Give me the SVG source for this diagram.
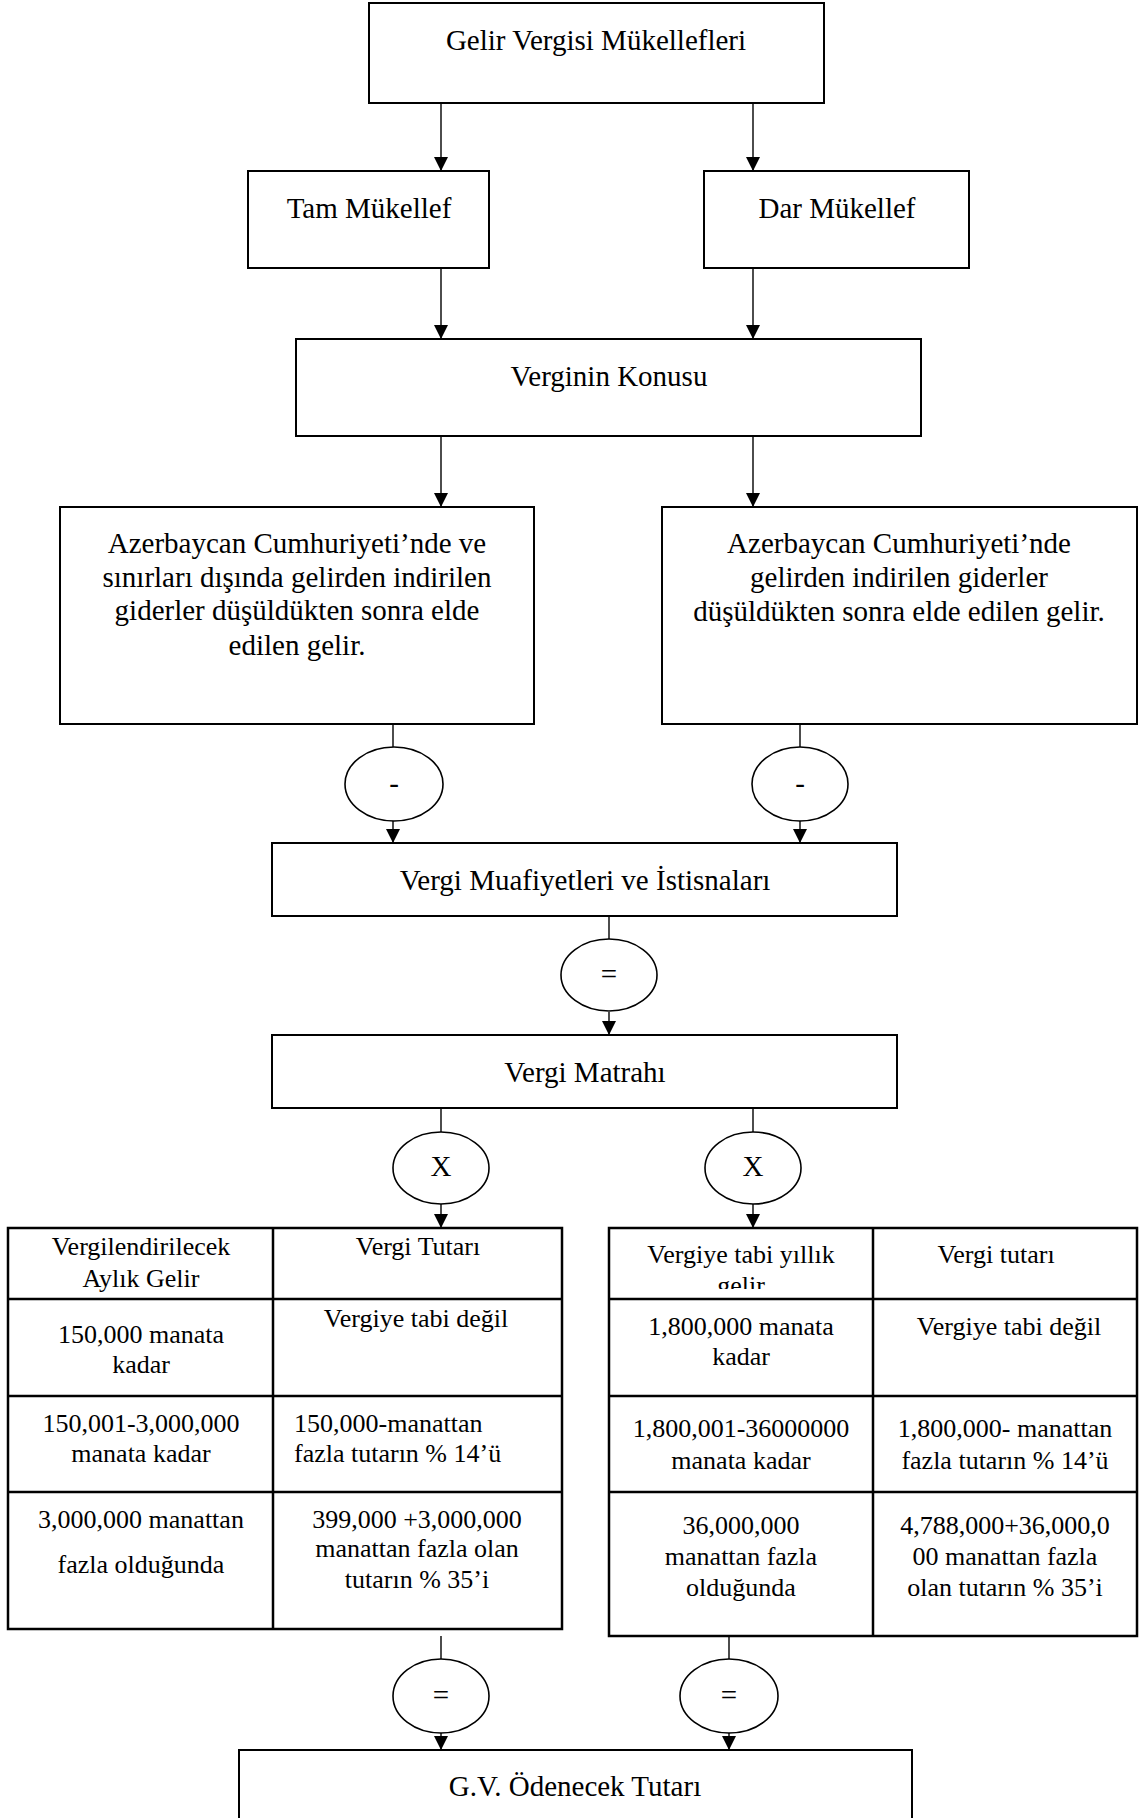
<svg xmlns="http://www.w3.org/2000/svg" width="1139" height="1818" viewBox="0 0 1139 1818">
<style>
.box{fill:#fff;stroke:#000;stroke-width:2}
.tbl{fill:#fff;stroke:#000;stroke-width:2.5}
.tl{stroke:#000;stroke-width:2.5}
.op{fill:#fff;stroke:#000;stroke-width:1.6}
.c{stroke:#000;stroke-width:1.4;fill:none}
.t{font-family:"Liberation Serif","Times New Roman",serif;font-size:29px;fill:#000;text-anchor:middle}
.s{font-family:"Liberation Serif","Times New Roman",serif;font-size:26px;fill:#000;text-anchor:middle}
.sl{text-anchor:start}
</style>
<defs>
<marker id="ah" viewBox="0 0 14 14" refX="14" refY="7" markerWidth="14" markerHeight="14" markerUnits="userSpaceOnUse" orient="auto">
<path d="M0,0 L14,7 L0,14 z" fill="#000"/>
</marker>
<clipPath id="clipGelir"><rect x="609" y="1228" width="264" height="61"/></clipPath>
</defs>
<rect width="1139" height="1818" fill="#fff"/>

<g id="connectors">
<line class="c" x1="441" y1="103" x2="441" y2="171" marker-end="url(#ah)"/>
<line class="c" x1="753" y1="103" x2="753" y2="171" marker-end="url(#ah)"/>
<line class="c" x1="441" y1="268" x2="441" y2="339" marker-end="url(#ah)"/>
<line class="c" x1="753" y1="268" x2="753" y2="339" marker-end="url(#ah)"/>
<line class="c" x1="441" y1="436" x2="441" y2="507" marker-end="url(#ah)"/>
<line class="c" x1="753" y1="436" x2="753" y2="507" marker-end="url(#ah)"/>
<line class="c" x1="393" y1="724" x2="393" y2="747"/>
<line class="c" x1="393" y1="820" x2="393" y2="843" marker-end="url(#ah)"/>
<line class="c" x1="800" y1="724" x2="800" y2="747"/>
<line class="c" x1="800" y1="820" x2="800" y2="843" marker-end="url(#ah)"/>
<line class="c" x1="609" y1="916" x2="609" y2="939"/>
<line class="c" x1="609" y1="1012" x2="609" y2="1035" marker-end="url(#ah)"/>
<line class="c" x1="441" y1="1108" x2="441" y2="1132"/>
<line class="c" x1="441" y1="1204" x2="441" y2="1228" marker-end="url(#ah)"/>
<line class="c" x1="753" y1="1108" x2="753" y2="1132"/>
<line class="c" x1="753" y1="1204" x2="753" y2="1228" marker-end="url(#ah)"/>
<line class="c" x1="441" y1="1636" x2="441" y2="1660"/>
<line class="c" x1="441" y1="1733" x2="441" y2="1750" marker-end="url(#ah)"/>
<line class="c" x1="729" y1="1637" x2="729" y2="1660"/>
<line class="c" x1="729" y1="1733" x2="729" y2="1750" marker-end="url(#ah)"/>
</g>

<g id="n-gelir">
<rect class="box" x="369" y="3" width="455" height="100"/>
<text class="t" x="596" y="50">Gelir Vergisi Mükellefleri</text>
</g>
<g id="n-tam">
<rect class="box" x="248" y="171" width="241" height="97"/>
<text class="t" x="369" y="218">Tam Mükellef</text>
</g>
<g id="n-dar">
<rect class="box" x="704" y="171" width="265" height="97"/>
<text class="t" x="837" y="218">Dar Mükellef</text>
</g>
<g id="n-konu">
<rect class="box" x="296" y="339" width="625" height="97"/>
<text class="t" x="609" y="386">Verginin Konusu</text>
</g>
<g id="n-tam-gelir">
<rect class="box" x="60" y="507" width="474" height="217"/>
<text class="t" x="297" y="553">Azerbaycan Cumhuriyeti’nde ve</text>
<text class="t" x="297" y="587">sınırları dışında gelirden indirilen</text>
<text class="t" x="297" y="620">giderler düşüldükten sonra elde</text>
<text class="t" x="297" y="655">edilen gelir.</text>
</g>
<g id="n-dar-gelir">
<rect class="box" x="662" y="507" width="475" height="217"/>
<text class="t" x="899" y="553">Azerbaycan Cumhuriyeti’nde</text>
<text class="t" x="899" y="587">gelirden indirilen giderler</text>
<text class="t" x="899" y="621">düşüldükten sonra elde edilen gelir.</text>
</g>
<g id="op-minus-1">
<ellipse class="op" cx="394" cy="784" rx="49" ry="37"/>
<text class="t" x="394" y="793">-</text>
</g>
<g id="op-minus-2">
<ellipse class="op" cx="800" cy="784" rx="48" ry="37"/>
<text class="t" x="800" y="793">-</text>
</g>
<g id="n-muafiyet">
<rect class="box" x="272" y="843" width="625" height="73"/>
<text class="t" x="585" y="890">Vergi Muafiyetleri ve İstisnaları</text>
</g>
<g id="op-eq-1">
<ellipse class="op" cx="609" cy="975" rx="48" ry="36"/>
<text class="t" x="609" y="984">=</text>
</g>
<g id="n-matrah">
<rect class="box" x="272" y="1035" width="625" height="73"/>
<text class="t" x="585" y="1082">Vergi Matrahı</text>
</g>
<g id="op-x-1">
<ellipse class="op" cx="441" cy="1168" rx="48" ry="36"/>
<text class="t" x="441" y="1176">X</text>
</g>
<g id="op-x-2">
<ellipse class="op" cx="753" cy="1168" rx="48" ry="36"/>
<text class="t" x="753" y="1176">X</text>
</g>

<g id="t-aylik">
<rect class="tbl" x="8" y="1228" width="554" height="401"/>
<line class="tl" x1="273" y1="1228" x2="273" y2="1629"/>
<line class="tl" x1="8" y1="1299" x2="562" y2="1299"/>
<line class="tl" x1="8" y1="1396" x2="562" y2="1396"/>
<line class="tl" x1="8" y1="1492" x2="562" y2="1492"/>
<text class="s" x="141" y="1255">Vergilendirilecek</text>
<text class="s" x="141" y="1287">Aylık Gelir</text>
<text class="s" x="418" y="1255">Vergi Tutarı</text>
<text class="s" x="141" y="1343">150,000 manata</text>
<text class="s" x="141" y="1373">kadar</text>
<text class="s" x="416" y="1327">Vergiye tabi değil</text>
<text class="s" x="141" y="1432">150,001-3,000,000</text>
<text class="s" x="141" y="1462">manata kadar</text>
<text class="s sl" x="294" y="1432">150,000-manattan</text>
<text class="s sl" x="294" y="1462">fazla tutarın % 14’ü</text>
<text class="s" x="141" y="1528">3,000,000 manattan</text>
<text class="s" x="141" y="1573">fazla olduğunda</text>
<text class="s" x="417" y="1528">399,000 +3,000,000</text>
<text class="s" x="417" y="1557">manattan fazla olan</text>
<text class="s" x="417" y="1588">tutarın % 35’i</text>
</g>

<g id="t-yillik">
<rect class="tbl" x="609" y="1228" width="528" height="408"/>
<line class="tl" x1="873" y1="1228" x2="873" y2="1636"/>
<line class="tl" x1="609" y1="1299" x2="1137" y2="1299"/>
<line class="tl" x1="609" y1="1396" x2="1137" y2="1396"/>
<line class="tl" x1="609" y1="1492" x2="1137" y2="1492"/>
<text class="s" x="741" y="1263">Vergiye tabi yıllık</text>
<text class="s" x="741" y="1294" clip-path="url(#clipGelir)">gelir</text>
<text class="s" x="996" y="1263">Vergi tutarı</text>
<text class="s" x="741" y="1335">1,800,000 manata</text>
<text class="s" x="741" y="1365">kadar</text>
<text class="s" x="1009" y="1335">Vergiye tabi değil</text>
<text class="s" x="741" y="1437">1,800,001-36000000</text>
<text class="s" x="741" y="1469">manata kadar</text>
<text class="s" x="1005" y="1437">1,800,000- manattan</text>
<text class="s" x="1005" y="1469">fazla tutarın % 14’ü</text>
<text class="s" x="741" y="1534">36,000,000</text>
<text class="s" x="741" y="1565">manattan fazla</text>
<text class="s" x="741" y="1596">olduğunda</text>
<text class="s" x="1005" y="1534">4,788,000+36,000,0</text>
<text class="s" x="1005" y="1565">00 manattan fazla</text>
<text class="s" x="1005" y="1596">olan tutarın % 35’i</text>
</g>

<g id="op-eq-2">
<ellipse class="op" cx="441" cy="1696" rx="48" ry="37"/>
<text class="t" x="441" y="1705">=</text>
</g>
<g id="op-eq-3">
<ellipse class="op" cx="729" cy="1696" rx="49" ry="37"/>
<text class="t" x="729" y="1705">=</text>
</g>
<g id="n-odenecek">
<rect class="box" x="239" y="1750" width="673" height="80"/>
<text class="t" x="575" y="1796">G.V. Ödenecek Tutarı</text>
</g>
</svg>
